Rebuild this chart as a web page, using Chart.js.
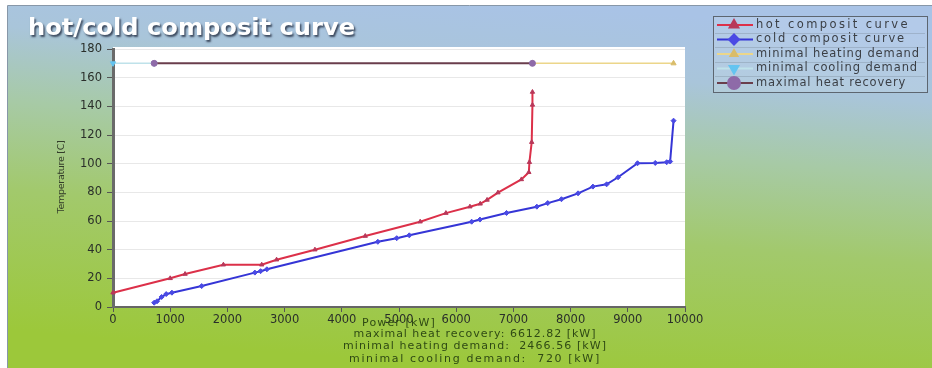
<!DOCTYPE html>
<html>
<head>
<meta charset="utf-8">
<script src="https://cdn.jsdelivr.net/npm/chart.js@4.4.1/dist/chart.umd.min.js"></script>
<style>
  html, body { margin: 0; padding: 0; background: #ffffff; }
  #wrap { width: 932px; height: 368px; }
</style>
</head>
<body>
<div id="wrap"><canvas id="c" width="932" height="368"></canvas></div>
<script>
// Hot composite curve: cumulated power [kW] and temperature [C]
const hotPower = [0, 1000, 1260, 1930, 2600, 2860, 3530, 4410, 5370, 5820, 6240, 6420, 6540, 6730, 7140, 7270, 7280, 7320, 7333, 7333];
const hotTemp  = [10, 20, 23, 29.5, 29.5, 33, 40, 49.5, 59.5, 65.5, 70, 72, 74.7, 79.8, 89, 94, 101, 115, 141, 150];

// Cold composite curve
const coldPower = [720, 770, 850, 930, 1030, 1550, 2480, 2580, 2690, 4630, 4960, 5180, 6270, 6415, 6880, 7410, 7600, 7840, 8130, 8390, 8630, 8830, 9170, 9480, 9680, 9740, 9800];
const coldTemp  = [3, 4, 7, 9, 10, 14.6, 24, 25, 26.3, 45.5, 48, 50, 59.5, 61, 65.6, 70, 72.5, 75.2, 79.3, 84, 85.6, 90.5, 100.3, 100.5, 101, 101.5, 130];

// Energy balance [kW] and the temperature level of the balance bars [C]
const coolingDemand = 720;
const heatRecovery  = 6612.82;
const heatingDemand = 2466.56;
const balanceLevel  = 170;

// Axis ticks
const xTickValues = [0, 1000, 2000, 3000, 4000, 5000, 6000, 7000, 8000, 9000, 10000];
const xTickLabels = ['0', '1000', '2000', '3000', '4000', '5000', '6000', '7000', '8000', '9000', '10000'];
const yTickValues = [0, 20, 40, 60, 80, 100, 120, 140, 160, 180];
const yTickLabels = ['0', '20', '40', '60', '80', '100', '120', '140', '160', '180'];

const seriesNames = ['hot composit curve', 'cold composit curve', 'minimal heating demand', 'minimal cooling demand', 'maximal heat recovery'];
const chartTitle = 'hot/cold composit curve';
const xTitle = 'Power [kW]';
const yTitle = 'Temperature [C]';

const pts = (xs, ys) => xs.map((x, i) => ({ x, y: ys[i] }));
const recoveryEnd = coolingDemand + heatRecovery;
const heatingEnd = recoveryEnd + heatingDemand;

const summaryLines = [
  'maximal heat recovery: ' + heatRecovery.toFixed(2) + ' [kW]',
  'minimal heating demand:  ' + heatingDemand.toFixed(2) + ' [kW]',
  'minimal cooling demand:  ' + coolingDemand + ' [kW]'
];

const styles = [
  { line: '#dc3049', mark: '#b8385a', style: 'triangle', rot: 0,   r: 2.5, lr: 5, lw: 2 },
  { line: '#3535d6', mark: '#4a4ae4', style: 'rectRot',  rot: 0,   r: 2.5, lr: 5, lw: 2 },
  { line: '#ecd68a', mark: '#d9bc6a', style: 'triangle', rot: 0,   r: 3,   lr: 4, lw: 1.5 },
  { line: '#bfe2ea', mark: '#64c4f0', style: 'triangle', rot: 180, r: 3,   lr: 5, lw: 1.5 },
  { line: '#6a3e4c', mark: '#8e6aa8', style: 'circle',   rot: 0,   r: 3,   lr: 6, lw: 2 }
];

const seriesData = [
  pts(hotPower, hotTemp),
  pts(coldPower, coldTemp),
  [{ x: recoveryEnd, y: balanceLevel }, { x: heatingEnd, y: balanceLevel }],
  [{ x: 0, y: balanceLevel }, { x: coolingDemand, y: balanceLevel }],
  [{ x: coolingDemand, y: balanceLevel }, { x: recoveryEnd, y: balanceLevel }]
];

// draw text stretched (via letter spacing) to a given width
function spacedText(ctx, text, x, y, width, align) {
  ctx.letterSpacing = '0px';
  const w = ctx.measureText(text).width;
  const n = [...text].length;
  const sp = (width - w) / n;
  ctx.letterSpacing = sp.toFixed(2) + 'px';
  let sx = x;
  if (align === 'center') sx = x - width / 2;
  else if (align === 'right') sx = x - width;
  ctx.textAlign = 'left';
  ctx.fillText(text, sx, y);
  ctx.letterSpacing = '0px';
}

// draw text scaled horizontally to a given width
function stretchedText(ctx, text, x, y, width) {
  const w = ctx.measureText(text).width;
  ctx.save();
  ctx.translate(x, y);
  ctx.scale(width / w, 1);
  ctx.textAlign = 'left';
  ctx.fillText(text, 0, 0);
  ctx.restore();
}

const decor = {
  id: 'decor',
  beforeDraw(chart) {
    const { ctx, width, height, chartArea: a } = chart;
    ctx.save();
    ctx.fillStyle = '#ffffff';
    ctx.fillRect(0, 0, width, height);
    const g = ctx.createLinearGradient(500, 0, 470, 368);
    g.addColorStop(0.0, '#a9c3e6');
    g.addColorStop(0.18, '#a9c5da');
    g.addColorStop(0.38, '#a7caa6');
    g.addColorStop(0.62, '#a2c96c');
    g.addColorStop(1.0, '#9cc83a');
    ctx.fillStyle = g;
    ctx.fillRect(8, 6, width - 8, height - 6);
    ctx.strokeStyle = '#8797a8';
    ctx.lineWidth = 1;
    ctx.beginPath();
    ctx.moveTo(7.5, height);
    ctx.lineTo(7.5, 5.5);
    ctx.lineTo(width, 5.5);
    ctx.stroke();
    // plot area
    ctx.fillStyle = '#ffffff';
    ctx.fillRect(a.left, a.top - 2, a.right - a.left, a.bottom - a.top + 2);
    ctx.restore();
  },
  afterDraw(chart) {
    const { ctx } = chart;
    ctx.save();
    // title
    ctx.font = 'bold 23px "DejaVu Sans"';
    ctx.textBaseline = 'alphabetic';
    ctx.shadowColor = 'rgba(40,50,70,0.85)';
    ctx.shadowOffsetX = 1.5;
    ctx.shadowOffsetY = 1.5;
    ctx.shadowBlur = 2;
    ctx.fillStyle = '#ffffff';
    stretchedText(ctx, chartTitle, 28, 35, 327);
    ctx.shadowColor = 'transparent';

    // axis titles and balance summary
    ctx.fillStyle = '#2f4a14';
    ctx.textBaseline = 'middle';
    ctx.font = '11px "DejaVu Sans"';
    spacedText(ctx, xTitle, 399, 323, 74, 'center');
    const summaryWidths = [243, 264, 252];
    const summaryY = [334.5, 346, 359];
    summaryLines.forEach((t, i) => spacedText(ctx, t, 475, summaryY[i], summaryWidths[i], 'center'));

    ctx.save();
    ctx.translate(62, 177);
    ctx.rotate(-Math.PI / 2);
    ctx.fillStyle = '#333d2a';
    ctx.font = '9.5px "DejaVu Sans"';
    spacedText(ctx, yTitle, 0, 0, 73, 'center');
    ctx.restore();

    // legend
    const lx = 713, ly = 16, lw = 214, lh = 76;
    ctx.fillStyle = 'rgba(255,255,255,0.12)';
    ctx.fillRect(lx, ly, lw, lh);
    ctx.strokeStyle = '#5d6670';
    ctx.lineWidth = 1;
    ctx.strokeRect(lx + 0.5, ly + 0.5, lw, lh);
    ctx.strokeStyle = 'rgba(120,135,150,0.35)';
    for (let i = 1; i < seriesNames.length; i++) {
      const yy = Math.round(ly + 2 + i * 14.5) + 0.5;
      ctx.beginPath(); ctx.moveTo(lx + 2, yy); ctx.lineTo(lx + lw - 2, yy); ctx.stroke();
    }
    ctx.font = '11.5px "DejaVu Sans"';
    ctx.textBaseline = 'middle';
    seriesNames.forEach((name, i) => {
      const s = styles[i];
      const cy = ly + 9 + i * 14.5;
      ctx.strokeStyle = s.line;
      ctx.lineWidth = 2;
      ctx.beginPath(); ctx.moveTo(lx + 4, cy); ctx.lineTo(lx + 40, cy); ctx.stroke();
      ctx.fillStyle = s.mark;
      ctx.strokeStyle = s.mark;
      Chart.helpers.drawPoint(ctx, { pointStyle: s.style, radius: s.lr, rotation: s.rot, borderWidth: 1 }, lx + 21, cy);
      ctx.fillStyle = '#3b3f45';
      const tw = [154, 150, 164, 162, 150][i];
      spacedText(ctx, name, lx + 43, cy, tw, 'left');
    });
    ctx.restore();
  }
};

const datasets = seriesNames.map((name, i) => ({
  label: name,
  data: seriesData[i],
  showLine: true,
  borderColor: styles[i].line,
  borderWidth: styles[i].lw,
  pointStyle: styles[i].style,
  pointRotation: styles[i].rot,
  pointRadius: styles[i].r,
  pointBackgroundColor: styles[i].mark,
  pointBorderColor: styles[i].mark,
  pointBorderWidth: 1,
  tension: 0,
  clip: 4,
  order: [1, 2, 4, 5, 3][i]
}));

const tickFont = { family: 'DejaVu Sans', size: 11.5 };

new Chart(document.getElementById('c'), {
  type: 'scatter',
  data: { datasets },
  options: {
    responsive: false,
    animation: false,
    devicePixelRatio: 1,
    layout: { padding: { left: 0, right: 247, top: 49, bottom: 0 } },
    plugins: { legend: { display: false }, title: { display: false }, tooltip: { enabled: false } },
    scales: {
      x: {
        type: 'linear', min: 0, max: 10000,
        afterFit(s) { s.height = 61; },
        afterBuildTicks(s) { s.ticks = xTickValues.map(v => ({ value: v })); },
        ticks: {
          autoSkip: false, maxRotation: 0, padding: 1, color: '#2a2f2a', font: tickFont,
          callback: (v, i) => xTickLabels[i]
        },
        grid: { drawOnChartArea: false, tickLength: 5, tickColor: '#555555', tickWidth: 1 },
        border: { color: '#666666', width: 2 }
      },
      y: {
        min: 0, max: 180,
        afterFit(s) { s.width = 113; },
        afterBuildTicks(s) { s.ticks = yTickValues.map(v => ({ value: v })); },
        ticks: {
          autoSkip: false, padding: 5, color: '#2a2f2a', font: tickFont,
          callback: (v, i) => yTickLabels[i]
        },
        grid: { color: '#e8e8e8', tickColor: '#555555', tickLength: 6, lineWidth: 1 },
        border: { color: '#6a6a6a', width: 3 }
      }
    }
  },
  plugins: [decor]
});
</script>
</body>
</html>
